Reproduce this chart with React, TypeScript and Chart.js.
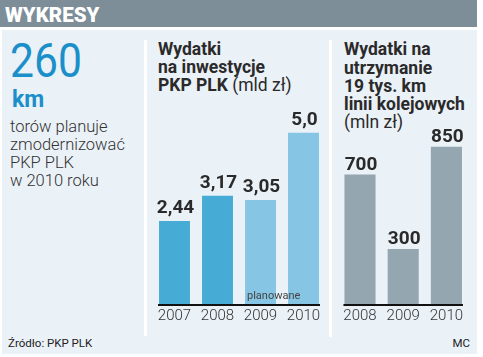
import React, { useEffect, useRef } from "react";
import { Chart, registerables } from "chart.js";

Chart.register(...registerables);

// ---- data ----
const investYears = ["2007", "2008", "2009", "2010"];
const investValues = [2.44, 3.17, 3.05, 5.0];
const investLabels = ["2,44", "3,17", "3,05", "5,0"];
const investColors = ["#46acd6", "#46acd6", "#86c5e4", "#86c5e4"];
const plannedNote = "planowane";

const maintYears = ["2008", "2009", "2010"];
const maintValues = [700, 300, 850];
const maintLabels = ["700", "300", "850"];
const maintColor = "#94a6b0";

const FONT = "Roboto, 'Open Sans', sans-serif";

function decorPlugin(labels: string[], offset: number, note?: string) {
  return {
    id: "decor",
    afterDatasetsDraw(chart: any) {
      const ctx = chart.ctx as CanvasRenderingContext2D;
      const els = chart.getDatasetMeta(0).data as any[];
      const y0 = chart.scales.y.getPixelForValue(0);
      ctx.save();
      const first = els[0];
      const last = els[els.length - 1];
      const x1 = first.x - first.width / 2 - 1;
      const x2 = last.x + last.width / 2 + 1;
      ctx.fillStyle = "#111";
      ctx.fillRect(x1, y0 - 1, x2 - x1, 2);
      ctx.font = `bold 19px ${FONT}`;
      ctx.fillStyle = "#2a2a2a";
      ctx.textAlign = "center";
      ctx.textBaseline = "alphabetic";
      els.forEach((el, i) => ctx.fillText(labels[i], el.x + 1, el.y - offset));
      if (note) {
        const el = els[2];
        ctx.font = `11px ${FONT}`;
        ctx.fillStyle = "#444";
        ctx.textAlign = "left";
        ctx.textBaseline = "middle";
        ctx.fillText(note, el.x - el.width / 2 + 2, y0 - 9);
      }
      ctx.restore();
    },
  };
}

function BarChart(props: {
  left: number;
  top: number;
  width: number;
  height: number;
  labels: string[];
  values: number[];
  colors: string[] | string;
  max: number;
  padding: { left: number; right: number; top: number; bottom: number };
  valueLabels: string[];
  labelOffset: number;
  note?: string;
}) {
  const ref = useRef<HTMLCanvasElement>(null);
  useEffect(() => {
    if (!ref.current) return;
    const chart = new Chart(ref.current, {
      type: "bar",
      data: {
        labels: props.labels,
        datasets: [
          {
            data: props.values,
            backgroundColor: props.colors as any,
            borderWidth: 0,
            categoryPercentage: 1,
            barPercentage: 0.72,
          },
        ],
      },
      options: {
        animation: false,
        responsive: false,
        maintainAspectRatio: false,
        layout: { padding: props.padding },
        plugins: {
          legend: { display: false },
          tooltip: { enabled: false },
          title: { display: false },
        },
        scales: {
          x: {
            offset: true,
            grid: { display: false, drawTicks: false },
            border: { display: false },
            ticks: {
              color: "#333",
              font: { family: FONT, size: 15, weight: "300" as any },
              padding: 2,
              maxRotation: 0,
              autoSkip: false,
            },
          },
          y: { display: false, min: 0, max: props.max },
        },
      },
      plugins: [decorPlugin(props.valueLabels, props.labelOffset, props.note)],
    });
    return () => chart.destroy();
  }, []);
  return (
    <canvas
      ref={ref}
      width={props.width}
      height={props.height}
      style={{ position: "absolute", left: props.left, top: props.top, width: props.width, height: props.height }}
    />
  );
}

function Txt(props: {
  x: number;
  baseline: number;
  size: number;
  weight?: number | string;
  color?: string;
  align?: "left" | "right";
  children: React.ReactNode;
  style?: React.CSSProperties;
}) {
  const top = props.baseline - 0.8415 * props.size;
  const pos: React.CSSProperties =
    props.align === "right" ? { right: 483 - props.x } : { left: props.x };
  return (
    <div
      style={{
        position: "absolute",
        top,
        ...pos,
        fontFamily: FONT,
        fontSize: props.size,
        lineHeight: `${props.size}px`,
        fontWeight: props.weight ?? 400,
        color: props.color ?? "#2a2a2a",
        whiteSpace: "nowrap",
        ...props.style,
      }}
    >
      {props.children}
    </div>
  );
}

export default function App() {
  return (
    <div
      style={{
        position: "absolute",
        left: 0,
        top: 0,
        width: 483,
        height: 357,
        background: "#ffffff",
        overflow: "hidden",
      }}
    >
      {/* header */}
      <div style={{ position: "absolute", left: 0, top: 0, width: 477, height: 27, background: "#7d8e99" }} />
      <Txt x={5} baseline={22} size={20.5} weight={900} color="#ffffff">
        WYKRESY
      </Txt>
      {/* panel */}
      <div style={{ position: "absolute", left: 2, top: 30, width: 475, height: 324, background: "#eaf1f7" }} />
      <div style={{ position: "absolute", left: 144, top: 40, width: 3, height: 296, background: "#ffffff" }} />
      <div style={{ position: "absolute", left: 329, top: 40, width: 3, height: 297, background: "#ffffff" }} />

      {/* left block */}
      <Txt x={10} baseline={77} size={49} weight={400} color="#1b8fc9" style={{ transform: "scaleX(0.87)", transformOrigin: "left center" }}>
        260
      </Txt>
      <Txt x={12} baseline={107} size={23} weight={700} color="#1b8fc9">
        km
      </Txt>
      <Txt x={10} baseline={133} size={16.5} weight={300} color="#333">
        torów planuje
      </Txt>
      <Txt x={10} baseline={151} size={16.5} weight={300} color="#333">
        zmodernizować
      </Txt>
      <Txt x={10} baseline={169} size={16.5} weight={300} color="#333">
        PKP PLK
      </Txt>
      <Txt x={10} baseline={187} size={16.5} weight={300} color="#333">
        w 2010 roku
      </Txt>

      {/* chart 1 title */}
      <Txt x={158} baseline={56} size={17.5} weight={700}>
        Wydatki
      </Txt>
      <Txt x={158} baseline={74} size={17.5} weight={700}>
        na inwestycje
      </Txt>
      <Txt x={158} baseline={92} size={17.5} weight={700}>
        PKP PLK <span style={{ fontWeight: 400 }}>(mld zł)</span>
      </Txt>

      {/* chart 2 title */}
      <Txt x={344} baseline={56} size={17.5} weight={700}>
        Wydatki na
      </Txt>
      <Txt x={344} baseline={75} size={17.5} weight={700}>
        utrzymanie
      </Txt>
      <Txt x={344} baseline={93} size={17.5} weight={700}>
        19 tys. km
      </Txt>
      <Txt x={344} baseline={111} size={17.5} weight={700}>
        linii kolejowych
      </Txt>
      <Txt x={344} baseline={129} size={17.5} weight={400}>
        (mln zł)
      </Txt>

      <BarChart
        left={140}
        top={90}
        width={190}
        height={240}
        labels={investYears}
        values={investValues}
        colors={investColors}
        max={6}
        padding={{ left: 13, right: 5, top: 8.4, bottom: 3 }}
        valueLabels={investLabels}
        labelOffset={8}
        note={plannedNote}
      />
      <BarChart
        left={330}
        top={90}
        width={150}
        height={240}
        labels={maintYears}
        values={maintValues}
        colors={maintColor}
        max={1100}
        padding={{ left: 8.4, right: 12, top: 10.1, bottom: 3 }}
        valueLabels={maintLabels}
        labelOffset={5}
      />

      {/* footer */}
      <Txt x={8} baseline={348} size={11.5} weight={400} color="#222">
        Źródło: PKP PLK
      </Txt>
      <Txt x={470} baseline={348} size={11.5} weight={400} color="#222" align="right">
        MC
      </Txt>
    </div>
  );
}
